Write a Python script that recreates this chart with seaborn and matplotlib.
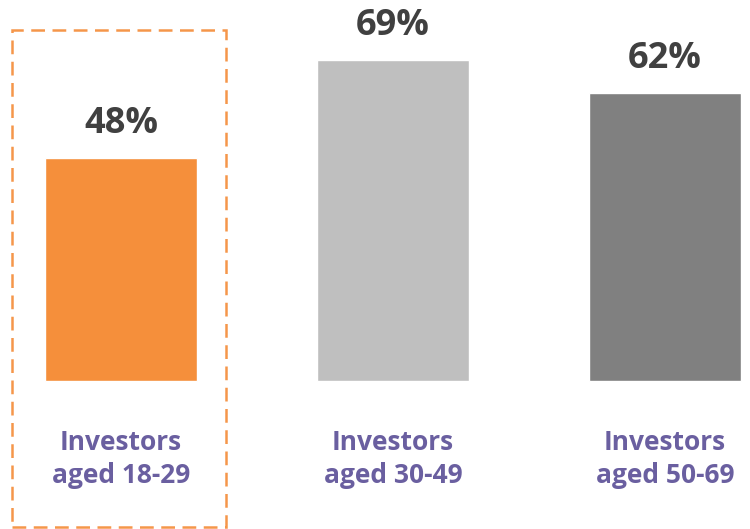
import pandas as pd
import matplotlib.pyplot as plt
import seaborn as sns
from matplotlib.patches import Rectangle

# data
groups = ['Investors\naged 18-29', 'Investors\naged 30-49', 'Investors\naged 50-69']
shares = [48, 69, 62]
bar_colors = ['#F58F3B', '#BFBFBF', '#808080']

df = pd.DataFrame({'group': groups, 'share': shares})

sns.set_style('white')
plt.rcParams['font.family'] = ['Open Sans', 'DejaVu Sans']

fig = plt.figure(figsize=(7.5, 5.29), dpi=100)
ax = fig.add_axes([0, 0, 1, 1])

sns.barplot(data=df, x='group', y='share', hue='group', palette=bar_colors,
            width=0.56, legend=False, saturation=1, ax=ax)

# value labels above bars
for i, v in enumerate(shares):
    ax.text(i, v + 7.3, f'{v}%', ha='center', va='center',
            fontsize=26, fontweight='bold', color='#404040')

# category labels under bars
for i, g in enumerate(groups):
    ax.text(i, -16.8, g, ha='center', va='center', fontsize=19,
            fontweight='bold', color='#6A5FA0', linespacing=1.3)

# dashed highlight box round the first group
box = Rectangle((-0.401, -31.4), 0.787, 106.9, fill=False,
                edgecolor='#F5964A', lw=1.8, linestyle=(0, (5.5, 3)),
                clip_on=False)
ax.add_patch(box)

ax.set_xlim(-0.445, 2.313)
ax.set_ylim(-31.8, 81.9)
ax.axis('off')

fig.savefig('out.png', dpi=100)
